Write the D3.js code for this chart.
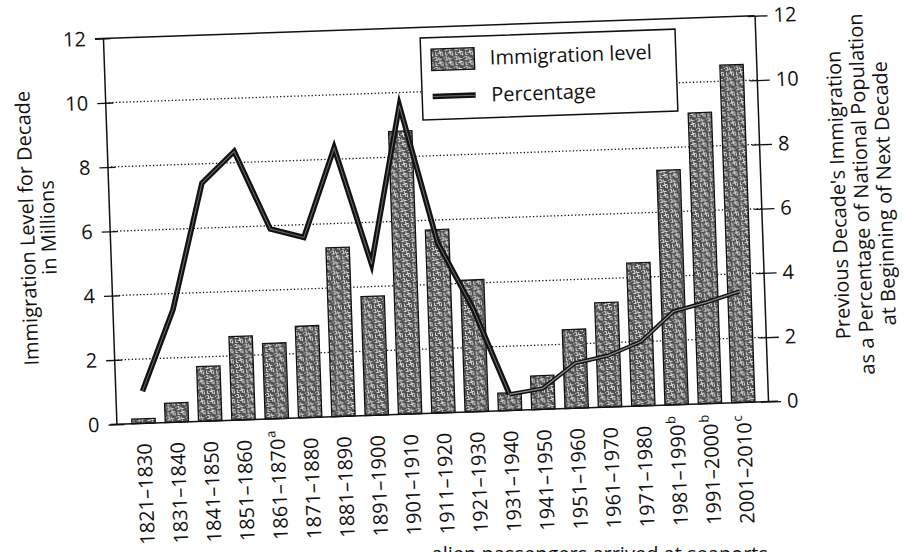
<!DOCTYPE html>
<html>
<head>
<meta charset="utf-8">
<script src="https://cdn.jsdelivr.net/npm/d3@7"></script>
<style>
  body { margin: 0; background: #fff; }
  svg { display: block; }
  text { font-family: "Open Sans", "Noto Sans", sans-serif; fill: #111; }
</style>
</head>
<body>
<svg id="chart" width="903" height="552"></svg>
<script>
// Decades of U.S. immigration
const decades = ["1821–1830", "1831–1840", "1841–1850", "1851–1860", "1861–1870",
  "1871–1880", "1881–1890", "1891–1900", "1901–1910", "1911–1920", "1921–1930",
  "1931–1940", "1941–1950", "1951–1960", "1961–1970", "1971–1980", "1981–1990",
  "1991–2000", "2001–2010"];
// footnote markers attached to some decade labels
const decadeNotes = ["", "", "", "", "a", "", "", "", "", "", "", "", "", "", "", "", "b", "b", "c"];

// Immigration level for the decade, in millions (left axis)
const immigration = [0.14, 0.6, 1.7, 2.6, 2.35, 2.85, 5.25, 3.7, 8.8, 5.7, 4.1,
  0.55, 1.05, 2.45, 3.25, 4.45, 7.3, 9.05, 10.5];
// Previous decade's immigration as % of population at start of next decade (right axis)
const percentage = [1.0, 3.5, 7.4, 8.35, 5.9, 5.6, 8.35, 4.7, 9.6, 5.3, 3.2,
  0.5, 0.65, 1.4, 1.6, 2.0, 2.9, 3.15, 3.45];

const leftTicks = [0, 2, 4, 6, 8, 10, 12];
const rightTicks = [0, 2, 4, 6, 8, 10, 12];

const leftTitle = ["Immigration Level for Decade", "in Millions"];
const rightTitle = ["Previous Decade's Immigration", "as a Percentage of National Population",
  "at Beginning of Next Decade"];
const legendLabels = ["Immigration level", "Percentage"];
const footnote = "alien passengers arrived at seaports";

const W = 903, H = 552;
const plot = { left: 109.5, right: 761.5, top: 27, bottom: 413 };
const ink = "#111";

const svg = d3.select("#chart");
svg.append("rect").attr("width", W).attr("height", H).attr("fill", "#fff");

// stippled grey texture used for the bars
const defs = svg.append("defs");
const pat = defs.append("pattern").attr("id", "stipple")
  .attr("width", 10).attr("height", 10).attr("patternUnits", "userSpaceOnUse");
pat.append("rect").attr("width", 10).attr("height", 10).attr("fill", "#4e4e4e");
pat.append("path")
  .attr("d", "M0.5,0.5h3M5.5,0.5v2h3M1.5,2.5v3h2M3.5,3.5h3v2M8.5,3.5v3M0.5,7.5h2v2M4.5,7.5v2h3M6.5,5.5h1M9,8.5h1M2.5,9.5h1")
  .attr("stroke", "#efefef").attr("stroke-width", 0.9).attr("fill", "none");

// the printed page sits slightly tilted
const g = svg.append("g").attr("transform", "rotate(-2,435.5,220)");

const x = d3.scaleBand().domain(decades).range([120, 753.4])
  .paddingInner(0.3).paddingOuter(0.15);
const y = d3.scaleLinear().domain([0, 12]).range([plot.bottom, plot.top]);
const yR = d3.scaleLinear().domain([0, 12]).range([plot.bottom, plot.top]);

// dotted gridlines
g.append("g").selectAll("line")
  .data(leftTicks.filter(v => v > 0 && v < 12))
  .join("line")
  .attr("x1", plot.left).attr("x2", plot.right)
  .attr("y1", d => y(d)).attr("y2", d => y(d))
  .attr("stroke", ink).attr("stroke-width", 1.3)
  .attr("stroke-dasharray", "1.3,2.2");

// bars
g.append("g").selectAll("rect")
  .data(immigration)
  .join("rect")
  .attr("x", (d, i) => x(decades[i]))
  .attr("width", x.bandwidth())
  .attr("y", d => y(d))
  .attr("height", d => y(0) - y(d))
  .attr("fill", "url(#stipple)")
  .attr("stroke", ink).attr("stroke-width", 1.3);

// percentage line, heavier before 1940
const pts = percentage.map((v, i) => ({ k: decades[i], v }));
const line = d3.line().x(d => x(d.k) + x.bandwidth() / 2).y(d => yR(d.v));
const segs = [
  { data: pts.slice(0, 12), w: 5.5, iw: 1.0, ic: "#6e6e6e" },
  { data: pts.slice(11), w: 4.2, iw: 1.3, ic: "#8c8c8c" }
];
segs.forEach(s => {
  g.append("path").attr("d", line(s.data)).attr("fill", "none")
    .attr("stroke", ink).attr("stroke-width", s.w)
    .attr("stroke-linejoin", "miter").attr("stroke-miterlimit", 10);
  g.append("path").attr("d", line(s.data)).attr("fill", "none")
    .attr("stroke", s.ic).attr("stroke-width", s.iw)
    .attr("stroke-linejoin", "miter");
});

// frame: top and bottom rules
g.append("line").attr("x1", plot.left - 8).attr("x2", plot.right)
  .attr("y1", y(12)).attr("y2", y(12)).attr("stroke", ink).attr("stroke-width", 1.5);
g.append("line").attr("x1", plot.left - 6).attr("x2", plot.right + 10)
  .attr("y1", y(0)).attr("y2", y(0)).attr("stroke", ink).attr("stroke-width", 1.5);

// left axis
const axL = g.append("g").attr("transform", `translate(${plot.left},0)`)
  .call(d3.axisLeft(y).tickValues(leftTicks).tickSize(8).tickSizeOuter(0)
    .tickPadding(9).tickFormat(d3.format("d")));
axL.select(".domain").attr("stroke", ink).attr("stroke-width", 1.5);
axL.selectAll(".tick line").attr("x1", 8).attr("stroke", ink).attr("stroke-width", 1.3);
axL.selectAll(".tick text").attr("font-size", 20).attr("fill", ink)
  .style("font-family", '"Open Sans", sans-serif');

// right axis
const axR = g.append("g").attr("transform", `translate(${plot.right},0)`)
  .call(d3.axisRight(yR).tickValues(rightTicks).tickSize(13).tickSizeOuter(0)
    .tickPadding(6).tickFormat(d3.format("d")));
axR.select(".domain").attr("stroke", ink).attr("stroke-width", 1.5);
axR.selectAll(".tick line").attr("x1", -7).attr("stroke", ink).attr("stroke-width", 1.3);
axR.selectAll(".tick text").attr("font-size", 20).attr("fill", ink)
  .style("font-family", '"Open Sans", sans-serif');

// decade labels, vertical
decades.forEach((d, i) => {
  const lg = g.append("g")
    .attr("transform", `translate(${x(d) + x.bandwidth() / 2},${plot.bottom + 20}) rotate(-90)`);
  lg.append("text").attr("text-anchor", "end").attr("dy", "0.35em")
    .attr("font-size", 20).text(d);
  if (decadeNotes[i]) {
    lg.append("text").attr("text-anchor", "start").attr("x", 1).attr("dy", "-0.15em")
      .attr("font-size", 13).text(decadeNotes[i]);
  }
});

// axis titles
leftTitle.forEach((t, i) => {
  g.append("text").attr("transform", `translate(${34 + i * 21},214) rotate(-90)`)
    .attr("text-anchor", "middle").attr("font-size", 20).text(t);
});
rightTitle.forEach((t, i) => {
  g.append("text").attr("transform", `translate(${846 + i * 23},209) rotate(-90)`)
    .attr("text-anchor", "middle").attr("font-size", 20).text(t);
});

// legend
const lgX = 426.5, lgY = 37.6;
g.append("rect").attr("x", lgX).attr("y", lgY).attr("width", 255).attr("height", 82)
  .attr("fill", "#fff").attr("stroke", ink).attr("stroke-width", 1.5);
g.append("rect").attr("x", lgX + 10.5).attr("y", lgY + 11.5).attr("width", 43).attr("height", 21.5)
  .attr("fill", "url(#stipple)").attr("stroke", ink).attr("stroke-width", 1.3);
g.append("line").attr("x1", lgX + 10.5).attr("x2", lgX + 53.5)
  .attr("y1", lgY + 59).attr("y2", lgY + 59).attr("stroke", ink).attr("stroke-width", 5.5);
g.append("line").attr("x1", lgX + 11).attr("x2", lgX + 53)
  .attr("y1", lgY + 59).attr("y2", lgY + 59).attr("stroke", "#6e6e6e").attr("stroke-width", 1.0);
legendLabels.forEach((t, i) => {
  g.append("text").attr("x", lgX + 69).attr("y", lgY + 22 + i * 37).attr("dy", "0.35em")
    .attr("font-size", 20).text(t);
});

// source note, running off the bottom of the page
svg.append("text").attr("x", 768).attr("y", 561).attr("text-anchor", "end")
  .attr("font-size", 20).text(footnote);
</script>
</body>
</html>
